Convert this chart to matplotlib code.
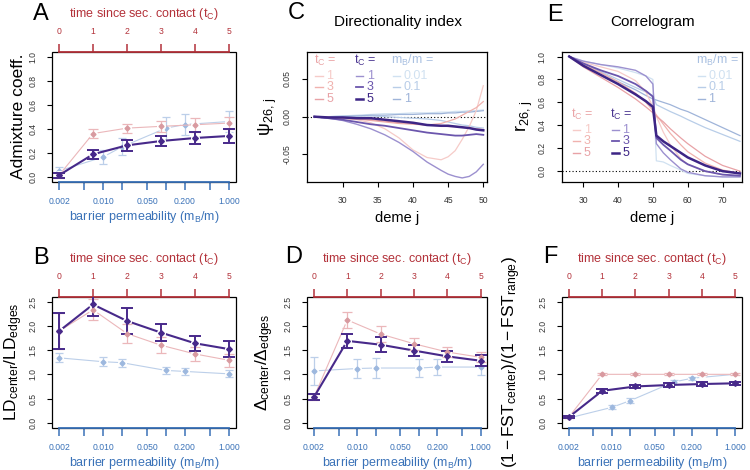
import numpy as np
import matplotlib
matplotlib.use("Agg")
import matplotlib.pyplot as plt
from matplotlib.patches import Rectangle

plt.rcParams["font.family"] = ["Liberation Sans", "DejaVu Sans"]
plt.rcParams["mathtext.fontset"] = "custom"
plt.rcParams["mathtext.rm"] = "Liberation Sans"
plt.rcParams["mathtext.it"] = "Liberation Sans:italic"
plt.rcParams["mathtext.sf"] = "Liberation Sans"
plt.rcParams["axes.unicode_minus"] = False

# ── Data ─────────────────────────────────────────────────────────────────────

perm = [0.002, 0.01, 0.02, 0.1, 0.2, 1.0]          # barrier permeability m_B/m
t_contact = [0, 1, 2, 3, 4, 5]                       # time since secondary contact
perm_ticks = [0.002, 0.005, 0.01, 0.02, 0.05, 0.1, 0.2, 0.5, 1.0]
perm_labels = ["0.002", "", "0.010", "", "0.050", "", "0.200", "", "1.000"]

# A: admixture coefficient
adm_blue = [0.05, 0.165, 0.25, 0.405, 0.435, 0.46]
adm_blue_err = [0.03, 0.06, 0.07, 0.095, 0.085, 0.085]
adm_red = [0.014, 0.36, 0.405, 0.42, 0.433, 0.447]
adm_red_err = [0.02, 0.035, 0.037, 0.045, 0.06, 0.05]
adm_dark = [0.014, 0.188, 0.262, 0.298, 0.323, 0.34]
adm_dark_err = [0.02, 0.037, 0.043, 0.045, 0.05, 0.057]

# B: LD center / LD edges
ld_blue = [1.34, 1.26, 1.24, 1.08, 1.06, 1.01]
ld_blue_err = [0.09, 0.09, 0.08, 0.07, 0.07, 0.07]
ld_red = [1.89, 2.33, 1.84, 1.60, 1.42, 1.29]
ld_red_err = [0.37, 0.22, 0.19, 0.17, 0.14, 0.13]
ld_dark = [1.89, 2.44, 2.10, 1.86, 1.64, 1.52]
ld_dark_err = [0.37, 0.24, 0.26, 0.18, 0.16, 0.16]

# D: Delta center / Delta edges
dl_blue = [1.07, 1.12, 1.13, 1.13, 1.15, 1.15]
dl_blue_err = [0.29, 0.20, 0.20, 0.18, 0.17, 0.16]
dl_red = [0.53, 2.12, 1.83, 1.63, 1.46, 1.35]
dl_red_err = [0.06, 0.17, 0.16, 0.12, 0.10, 0.10]
dl_dark = [0.53, 1.69, 1.61, 1.49, 1.37, 1.28]
dl_dark_err = [0.06, 0.15, 0.15, 0.11, 0.11, 0.11]

# F: (1 - FST_center) / (1 - FST_range)
fst_blue = [0.10, 0.32, 0.46, 0.84, 0.92, 1.0]
fst_blue_err = [0.02, 0.04, 0.05, 0.04, 0.03, 0.02]
fst_red = [0.12, 1.0, 1.0, 1.0, 1.0, 1.0]
fst_red_err = [0.03, 0.02, 0.02, 0.02, 0.02, 0.02]
fst_dark = [0.12, 0.66, 0.75, 0.78, 0.80, 0.815]
fst_dark_err = [0.03, 0.04, 0.04, 0.035, 0.035, 0.03]

# C: directionality index psi_{26,j}
deme_c = [26, 28, 30, 32, 34, 36, 38, 40, 42, 44, 45, 46, 47, 48, 49, 50]
psi_red1 = [0, -0.001, -0.002, -0.004, -0.008, -0.016, -0.028, -0.044, -0.054, -0.057,
            -0.053, -0.045, -0.030, -0.013, 0.008, 0.041]
psi_red3 = [0, -0.001, -0.002, -0.003, -0.005, -0.007, -0.009, -0.010, -0.011, -0.009,
            -0.006, -0.003, 0.002, 0.007, 0.012, 0.020]
psi_red5 = [0, -0.001, -0.002, -0.003, -0.004, -0.006, -0.008, -0.009, -0.011, -0.012,
            -0.013, -0.013, -0.014, -0.015, -0.016, -0.017]
psi_pur1 = [0, -0.002, -0.005, -0.010, -0.016, -0.024, -0.034, -0.046, -0.060, -0.071,
            -0.076, -0.079, -0.081, -0.079, -0.073, -0.063]
psi_pur3 = [0, -0.002, -0.004, -0.007, -0.010, -0.012, -0.015, -0.018, -0.021, -0.023,
            -0.024, -0.025, -0.025, -0.024, -0.023, -0.024]
psi_pur5 = [0, -0.001, -0.001, -0.002, -0.002, -0.004, -0.006, -0.008, -0.011, -0.012,
            -0.012, -0.013, -0.014, -0.015, -0.017, -0.018]
psi_blue001 = [0, 0.0, 0.001, 0.002, 0.003, 0.004, 0.004, 0.005, 0.005, 0.006,
               0.006, 0.007, 0.007, 0.008, 0.008, 0.009]
psi_blue01 = [0, 0.0, 0.001, 0.001, 0.001, 0.0, -0.001, -0.002, -0.003, -0.005,
              -0.007, -0.009, -0.011, -0.012, -0.014, -0.015]
psi_blue1 = [0, 0.0, 0.0, 0.001, 0.002, 0.002, 0.003, 0.003, 0.004, 0.004,
             0.005, 0.005, 0.006, 0.006, 0.007, 0.008]

# E: correlogram r_{26,j}
deme_e = [26, 30, 35, 40, 45, 48, 50, 51, 53, 55, 58, 60, 65, 70, 75]
r_red1 = [1.0, 0.95, 0.91, 0.87, 0.79, 0.69, 0.56, 0.48, 0.34, 0.23, 0.11, 0.06, 0.0, -0.03, -0.04]
r_red3 = [1.0, 0.93, 0.86, 0.78, 0.68, 0.60, 0.53, 0.49, 0.41, 0.33, 0.23, 0.17, 0.07, 0.01, -0.02]
r_red5 = [1.0, 0.91, 0.82, 0.73, 0.63, 0.56, 0.51, 0.48, 0.43, 0.37, 0.29, 0.24, 0.13, 0.05, 0.0]
r_pur1 = [1.0, 0.96, 0.93, 0.91, 0.88, 0.83, 0.76, 0.24, 0.16, 0.10, 0.02, -0.01, -0.04, -0.05, -0.05]
r_pur3 = [1.0, 0.94, 0.88, 0.83, 0.76, 0.70, 0.65, 0.29, 0.23, 0.18, 0.10, 0.06, 0.0, -0.03, -0.04]
r_pur5 = [1.0, 0.92, 0.84, 0.76, 0.67, 0.61, 0.56, 0.31, 0.26, 0.22, 0.16, 0.12, 0.05, 0.0, -0.02]
r_blue001 = [1.0, 0.96, 0.93, 0.90, 0.86, 0.83, 0.80, 0.09, 0.08, 0.05, 0.01, -0.02, -0.04, -0.05, -0.05]
r_blue01 = [1.0, 0.94, 0.87, 0.80, 0.73, 0.69, 0.66, 0.58, 0.55, 0.52, 0.48, 0.45, 0.38, 0.32, 0.26]
r_blue1 = [1.0, 0.94, 0.86, 0.78, 0.71, 0.66, 0.63, 0.62, 0.60, 0.58, 0.54, 0.52, 0.45, 0.38, 0.31]

tc_levels = ["1", "3", "5"]
mb_levels = ["0.01", "0.1", "1"]

# ── Styles ───────────────────────────────────────────────────────────────────

RED_AX = "#b3323a"
BLUE_AX = "#3a72b8"
RED_PT = "#d89aa0"
RED_LN = "#ebb7ba"
DARK = "#47298a"
BLUE_PT = "#9db8de"
BLUE_LN = "#bccfe9"

RED_SHADES = ["#f6cbc8", "#f0b2ae", "#e8a2a6"]
PUR_SHADES = ["#9c90cf", "#6b56ad", "#3d2585"]
PUR_WIDTHS = [1.0, 1.3, 1.8]
BLUE_SHADES = ["#d0e1f1", "#b8cde8", "#9fb4d9"]
RED_HDR = "#eaa4a6"
PUR_HDR = "#4a3590"
BLUE_HDR = "#a9c0e1"

W, H = 750, 470
fig = plt.figure(figsize=(7.5, 4.7), dpi=100)


def rect(x0, y0, x1, y1):
    return [x0 / W, 1 - y1 / H, (x1 - x0) / W, (y1 - y0) / H]


def draw_series(ax, x, y, err, pt_col, ln_col, lw, elw, cap, ms):
    ax.plot(x, y, color=ln_col, lw=lw, zorder=2, clip_on=False)
    ax.plot(x, y, "o", color="white", ms=5.5, zorder=2.2, clip_on=False)
    ax.errorbar(x, y, yerr=err, fmt="none", ecolor=ln_col, elinewidth=elw,
                capsize=cap, capthick=elw, zorder=3)
    ax.plot(x, y, "D", color=pt_col, ms=ms, mec=pt_col, zorder=4)


def summary_panel(r, letter, ylabel, ylab_x, yticks, ylim,
                  blue, blue_err, red, red_err, dark, dark_err):
    ax = fig.add_axes(r)
    ax.set_xscale("log")
    lo, hi = np.log10(perm[0]), np.log10(perm[-1])
    pad = 0.04 * (hi - lo)
    ax.set_xlim(10 ** (lo - pad), 10 ** (hi + pad))
    ax.set_ylim(ylim)
    ax.set_xticks(perm_ticks)
    ax.set_xticklabels(perm_labels)
    ax.xaxis.set_minor_locator(matplotlib.ticker.NullLocator())
    ax.set_yticks(yticks)
    ax.set_yticklabels([f"{v:.1f}" for v in yticks], rotation=90, va="center")
    ax.tick_params(axis="x", direction="out", length=6, width=1.1, color=BLUE_AX,
                   labelcolor=BLUE_AX, labelsize=6.2, pad=5)
    ax.tick_params(axis="y", direction="out", length=3.5, width=0.8,
                   labelsize=6.2, pad=7, labelcolor="#333333")
    for s in ["left", "right", "top"]:
        ax.spines[s].set_visible(False)
    ax.spines["bottom"].set_color(BLUE_AX)
    ax.spines["bottom"].set_linewidth(1.3)
    ax.spines["bottom"].set_bounds(perm[0], perm[-1])
    ax.spines["bottom"].set_zorder(5)
    ax.add_patch(Rectangle((0, 0), 1, 1, transform=ax.transAxes, fill=False,
                           ec="black", lw=0.9, clip_on=False, zorder=4.5))

    draw_series(ax, perm, blue, blue_err, BLUE_PT, BLUE_LN, 0.8, 0.9, 3.2, 2.5)

    axt = ax.twiny()
    axt.set_xlim(t_contact[0] - 0.04 * 5, t_contact[-1] + 0.04 * 5)
    axt.set_xticks(t_contact)
    axt.tick_params(axis="x", direction="out", length=6, width=1.1, color=RED_AX,
                    labelcolor=RED_AX, labelsize=6.2, pad=5)
    for s in ["left", "right", "bottom"]:
        axt.spines[s].set_visible(False)
    axt.spines["top"].set_color(RED_AX)
    axt.spines["top"].set_linewidth(1.3)
    axt.spines["top"].set_bounds(t_contact[0], t_contact[-1])

    draw_series(axt, t_contact, red, red_err, RED_PT, RED_LN, 0.8, 0.9, 3.8, 2.5)
    draw_series(axt, t_contact, dark, dark_err, DARK, DARK, 1.5, 1.4, 4.6, 2.9)

    ax.text(0.5, -0.27, r"barrier permeability ($\mathrm{m_B/m}$)", transform=ax.transAxes,
            ha="center", va="center", color=BLUE_AX, fontsize=9)
    ax.text(0.5, 1.29, r"time since sec. contact ($\mathrm{t_C}$)", transform=ax.transAxes,
            ha="center", va="center", color=RED_AX, fontsize=9)
    ax.text(ylab_x, 0.5, ylabel, transform=ax.transAxes, rotation=90,
            ha="center", va="center", fontsize=12.5)
    return ax


def legend_column(ax, x, y0, header, hdr_col, labels, colors, widths):
    ax.text(x, y0, header, transform=ax.transAxes, color=hdr_col, fontsize=9,
            ha="left", va="center")
    for i, (lab, col, w) in enumerate(zip(labels, colors, widths)):
        yy = y0 - 0.12 - 0.09 * i
        ax.plot([x + 0.01, x + 0.05], [yy, yy], transform=ax.transAxes,
                color=col, lw=w, clip_on=False)
        ax.text(x + 0.07, yy, lab, transform=ax.transAxes, color=col,
                fontsize=9, ha="left", va="center")


def deme_axes(ax, xticks, yticks, ylabels, title, ylabel, ylab_x):
    ax.set_xticks(xticks)
    ax.set_yticks(yticks)
    ax.set_yticklabels(ylabels, rotation=90, va="center")
    ax.tick_params(axis="both", direction="out", length=3.5, width=0.8,
                   labelsize=6.2, labelcolor="#333333")
    ax.tick_params(axis="x", pad=7)
    ax.tick_params(axis="y", pad=8)
    for s in ax.spines.values():
        s.set_linewidth(0.9)
    ax.axhline(0, color="black", lw=0.8, ls=(0, (1, 2)), zorder=1)
    ax.text(0.5, -0.28, "deme j", transform=ax.transAxes, ha="center",
            va="center", fontsize=10.5)
    ax.text(0.505, 1.23, title, transform=ax.transAxes, ha="center",
            va="center", fontsize=11)
    ax.text(ylab_x, 0.5, ylabel, transform=ax.transAxes, rotation=90,
            ha="center", va="center", fontsize=13)


# ── A / B / D / F ────────────────────────────────────────────────────────────

summary_panel(rect(52.3, 51.7, 235.7, 181.7), "A", "Admixture coeff.", -0.185,
              [0.0, 0.2, 0.4, 0.6, 0.8, 1.0], (-0.04, 1.04),
              adm_blue, adm_blue_err, adm_red, adm_red_err, adm_dark, adm_dark_err)
yt = [0.0, 0.5, 1.0, 1.5, 2.0, 2.5]
summary_panel(rect(52.3, 296.7, 235.7, 427.7), "B",
              r"$\mathrm{LD_{center}/LD_{edges}}$", -0.21, yt, (-0.1, 2.6),
              ld_blue, ld_blue_err, ld_red, ld_red_err, ld_dark, ld_dark_err)
summary_panel(rect(307.3, 296.7, 487.3, 427.7), "D",
              r"$\mathrm{\Delta_{center}/\Delta_{edges}}$", -0.235, yt, (-0.1, 2.6),
              dl_blue, dl_blue_err, dl_red, dl_red_err, dl_dark, dl_dark_err)
summary_panel(rect(562.3, 296.7, 741.7, 427.7), "F",
              r"$\mathrm{(1-FST_{center})/(1-FST_{range})}$", -0.28, yt, (-0.1, 2.6),
              fst_blue, fst_blue_err, fst_red, fst_red_err, fst_dark, fst_dark_err)

# ── C: directionality index ──────────────────────────────────────────────────

axc = fig.add_axes(rect(307.3, 51.7, 487.3, 181.7))
for vals, col in zip([psi_blue001, psi_blue01, psi_blue1], BLUE_SHADES):
    axc.plot(deme_c, vals, color=col, lw=0.9)
for vals, col in zip([psi_red1, psi_red3, psi_red5], RED_SHADES):
    axc.plot(deme_c, vals, color=col, lw=0.9)
for vals, col, w in zip([psi_pur1, psi_pur3, psi_pur5], PUR_SHADES, PUR_WIDTHS):
    axc.plot(deme_c, vals, color=col, lw=w)
axc.set_xlim(24.97, 50.57)
axc.set_ylim(-0.086, 0.086)
deme_axes(axc, [30, 35, 40, 45, 50], [-0.05, 0.0, 0.05], ["-0.05", "0.00", "0.05"],
          "Directionality index", r"$\mathrm{\psi_{26,\,j}}$", -0.22)
legend_column(axc, 0.035, 0.935, r"$\mathrm{t_C}$ =", RED_HDR, tc_levels,
              RED_SHADES, [1, 1, 1])
legend_column(axc, 0.26, 0.935, r"$\mathrm{t_C}$ =", PUR_HDR, tc_levels,
              PUR_SHADES, PUR_WIDTHS)
legend_column(axc, 0.465, 0.935, r"$\mathrm{m_B/m}$ =", BLUE_HDR, mb_levels,
              BLUE_SHADES, [1, 1, 1])

# ── E: correlogram ───────────────────────────────────────────────────────────

axe = fig.add_axes(rect(562.3, 51.7, 741.7, 181.7))
for vals, col in zip([r_blue001, r_blue01, r_blue1], BLUE_SHADES):
    axe.plot(deme_e, vals, color=col, lw=0.9)
for vals, col in zip([r_red1, r_red3, r_red5], RED_SHADES):
    axe.plot(deme_e, vals, color=col, lw=0.9)
for vals, col, w in zip([r_pur1, r_pur3, r_pur5], PUR_SHADES, PUR_WIDTHS):
    axe.plot(deme_e, vals, color=col, lw=w)
axe.set_xlim(24.0, 75.5)
axe.set_ylim(-0.092, 1.042)
yv = [0.0, 0.2, 0.4, 0.6, 0.8, 1.0]
deme_axes(axe, [30, 40, 50, 60, 70], yv, [f"{v:.1f}" for v in yv],
          "Correlogram", r"$\mathrm{r_{26,\,j}}$", -0.21)
legend_column(axe, 0.745, 0.935, r"$\mathrm{m_B/m}$ =", BLUE_HDR, mb_levels,
              BLUE_SHADES, [1, 1, 1])
legend_column(axe, 0.05, 0.52, r"$\mathrm{t_C}$ =", RED_HDR, tc_levels,
              RED_SHADES, [1, 1, 1])
legend_column(axe, 0.265, 0.52, r"$\mathrm{t_C}$ =", PUR_HDR, tc_levels,
              PUR_SHADES, PUR_WIDTHS)

# ── Panel letters ────────────────────────────────────────────────────────────

for letter, x, y in [("A", 41, 14), ("B", 41, 258), ("C", 296.7, 13.3),
                     ("D", 294, 257), ("E", 555, 15), ("F", 550, 257)]:
    fig.text(x / W, 1 - y / H, letter, fontsize=17, ha="center", va="center")

fig.savefig("out.png", dpi=100)
